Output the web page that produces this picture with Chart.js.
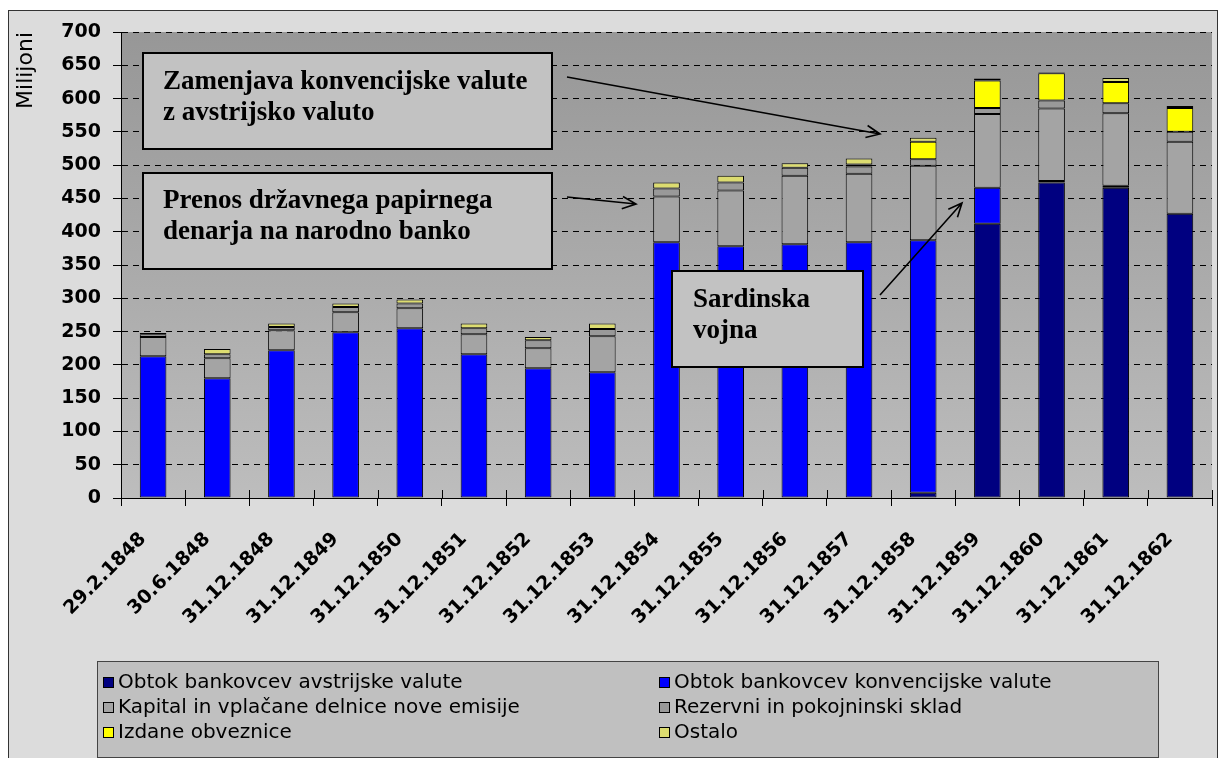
<!DOCTYPE html>
<html>
<head>
<meta charset="utf-8">
<script src="https://cdn.jsdelivr.net/npm/chart.js@4.4.1/dist/chart.umd.min.js"></script>
<style>
  body { margin: 0; background: #fff; }
  #wrap { width: 1222px; height: 758px; position: relative; }
</style>
</head>
<body>
<div id="wrap"><canvas id="chart"></canvas></div>
<script>
const categories = ['29.2.1848', '30.6.1848', '31.12.1848', '31.12.1849', '31.12.1850', '31.12.1851',
  '31.12.1852', '31.12.1853', '31.12.1854', '31.12.1855', '31.12.1856', '31.12.1857',
  '31.12.1858', '31.12.1859', '31.12.1860', '31.12.1861', '31.12.1862'];

const avstrijske   = [0, 0, 0, 0, 0, 0, 0, 0, 0, 0, 0, 0, 8, 412, 474, 466, 427];
const konvencijske = [213, 180, 222, 249, 255, 216, 195, 189, 384, 378, 381, 384, 379, 54, 2, 3, 0];
const kapital      = [29, 30, 30, 30, 30, 30, 30, 54, 69, 84, 103, 103, 112, 111, 109, 109, 108];
const rezervni     = [4, 6, 5, 8, 7, 9, 12, 11, 12, 12, 12, 11, 10, 9, 12, 15, 15];
const obveznice    = [0, 0, 0, 0, 0, 0, 0, 0, 0, 0, 0, 3, 26, 41, 41, 32, 36];
const ostalo       = [2, 8, 5, 5, 6, 7, 5, 8, 9, 10, 7, 9, 6, 3, 1, 6, 3];

const seriesNames = ['Obtok bankovcev avstrijske valute', 'Obtok bankovcev konvencijske valute',
  'Kapital in vplačane delnice nove emisije', 'Rezervni in pokojninski sklad',
  'Izdane obveznice', 'Ostalo'];
const seriesColors = ['#000080', '#0000ff', '#a4a4a4', '#999999', '#ffff00', '#dcdc70'];

const notes = [
  { lines: ['Zamenjava konvencijske valute', 'z avstrijsko valuto'], box: [143, 53, 409, 96], text: [163, 89], arrow: [567, 77, 880, 134] },
  { lines: ['Prenos državnega papirnega', 'denarja na narodno banko'], box: [143, 173, 409, 96], text: [163, 208], arrow: [567, 197, 636, 204] },
  { lines: ['Sardinska', 'vojna'], box: [672, 271, 191, 96], text: [693, 307], arrow: [880, 295, 962, 203] }
];

Chart.defaults.font.family = 'DejaVu Sans';
Chart.defaults.color = '#000';

function drawArrow(ctx, x1, y1, x2, y2) {
  const a = Math.atan2(y2 - y1, x2 - x1);
  const len = 15;
  ctx.beginPath();
  ctx.moveTo(x1, y1);
  ctx.lineTo(x2, y2);
  ctx.moveTo(x2 - len * Math.cos(a - 0.42), y2 - len * Math.sin(a - 0.42));
  ctx.lineTo(x2, y2);
  ctx.lineTo(x2 - len * Math.cos(a + 0.42), y2 - len * Math.sin(a + 0.42));
  ctx.stroke();
}

const backdrop = {
  id: 'backdrop',
  beforeDraw(chart) {
    const c = chart.ctx;
    const a = chart.chartArea;
    c.save();
    c.fillStyle = '#dcdcdc';
    c.fillRect(8, 10, 1210, 760);
    c.strokeStyle = '#333';
    c.lineWidth = 1;
    c.strokeRect(8.5, 10.5, 1209, 760);
    const g = c.createLinearGradient(0, a.top, 0, a.bottom);
    g.addColorStop(0, '#979797');
    g.addColorStop(1, '#bdbdbd');
    c.fillStyle = g;
    c.fillRect(a.left, a.top, a.right - a.left, a.bottom - a.top);
    c.restore();
  },
  afterDatasetsDraw(chart) {
    // short tick marks above the category axis, between the bars
    const c = chart.ctx;
    const x = chart.scales.x;
    const bottom = chart.chartArea.bottom;
    c.save();
    c.strokeStyle = '#000';
    c.lineWidth = 1;
    c.beginPath();
    for (let i = 0; i <= categories.length; i++) {
      const px = Math.round(x.getPixelForValue(i - 0.5)) + 0.5;
      c.moveTo(px, bottom - 8);
      c.lineTo(px, bottom);
    }
    c.stroke();
    c.restore();
  },
  afterDraw(chart) {
    const c = chart.ctx;
    c.save();
    // text boxes and arrows
    notes.forEach(n => {
      const [x, y, w, h] = n.box;
      c.fillStyle = '#c2c2c2';
      c.fillRect(x, y, w, h);
      c.strokeStyle = '#000';
      c.lineWidth = 2;
      c.strokeRect(x, y, w, h);
      c.fillStyle = '#000';
      c.font = 'bold 27px "Liberation Serif"';
      c.textBaseline = 'alphabetic';
      n.lines.forEach((t, i) => c.fillText(t, n.text[0], n.text[1] + i * 31));
      c.lineWidth = 1.6;
      drawArrow(c, ...n.arrow);
    });

    // legend
    c.fillStyle = '#c0c0c0';
    c.fillRect(97, 661, 1061, 96);
    c.strokeStyle = '#444';
    c.lineWidth = 1;
    c.strokeRect(97.5, 661.5, 1061, 96);
    const cols = [103, 659];
    const rows = [682, 707, 732];
    c.font = '20px "DejaVu Sans"';
    c.textBaseline = 'middle';
    seriesNames.forEach((name, i) => {
      const x = cols[i % 2];
      const y = rows[Math.floor(i / 2)];
      c.fillStyle = seriesColors[i];
      c.fillRect(x, y - 5, 10, 11);
      c.strokeStyle = '#000';
      c.strokeRect(x + 0.5, y - 4.5, 10, 10);
      c.fillStyle = '#000';
      c.fillText(name, x + 15, y + 1);
    });
    c.restore();
  }
};

const datasets = [avstrijske, konvencijske, kapital, rezervni, obveznice, ostalo].map((d, i) => ({
  label: seriesNames[i],
  data: d,
  backgroundColor: seriesColors[i],
  borderColor: '#000',
  borderWidth: 1,
  borderSkipped: false,
  categoryPercentage: 1,
  barPercentage: 0.415
}));

new Chart(document.getElementById('chart'), {
  type: 'bar',
  data: { labels: categories, datasets },
  options: {
    responsive: true,
    maintainAspectRatio: false,
    animation: false,
    layout: { padding: { top: 32, right: 10, bottom: 130, left: 0 } },
    plugins: {
      legend: { display: false },
      tooltip: { enabled: false }
    },
    scales: {
      x: {
        stacked: true,
        afterFit(scale) { scale.height = 130; },
        grid: { display: true, drawOnChartArea: false, offset: true, tickLength: 8, tickColor: '#000' },
        border: { display: true, color: '#000', width: 1 },
        ticks: {
          maxRotation: 45, minRotation: 45, autoSkip: false, padding: 22, labelOffset: -10,
          font: { size: 19, weight: 'bold' }, color: '#000'
        }
      },
      y: {
        stacked: true,
        min: 0,
        max: 700,
        afterFit(scale) { scale.width = 121; },
        grid: { color: '#000', lineWidth: 1, tickLength: 8, tickColor: '#000', tickBorderDash: [] },
        border: { display: true, color: '#000', width: 1, dash: [6, 5] },
        ticks: { stepSize: 50, padding: 12, font: { size: 19, weight: 'bold' }, color: '#000' },
        title: { display: true, text: 'Milijoni', align: 'end', font: { size: 22 }, color: '#000', padding: { top: 13, bottom: 0 } }
      }
    }
  },
  plugins: [backdrop]
});
</script>
</body>
</html>
